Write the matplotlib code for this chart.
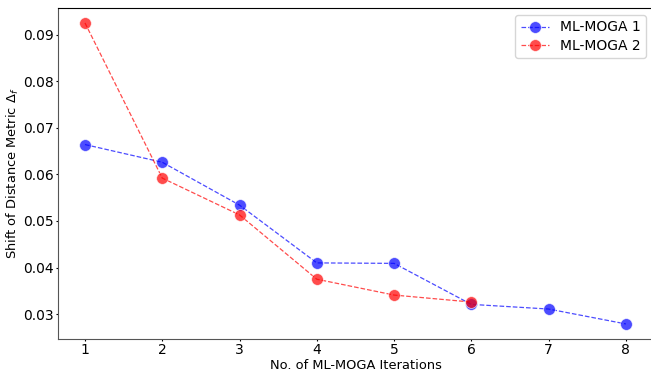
import matplotlib
matplotlib.use("Agg")
import matplotlib.pyplot as plt

iterations_1 = [1, 2, 3, 4, 5, 6, 7, 8]
shift_1 = [0.0664, 0.0626, 0.0534, 0.0410, 0.0409, 0.0321, 0.0311, 0.0279]
iterations_2 = [1, 2, 3, 4, 5, 6]
shift_2 = [0.0925, 0.0592, 0.0513, 0.0375, 0.0341, 0.0326]


def main() -> None:
    fig = plt.figure(figsize=(6.51, 3.75), dpi=100)
    ax = fig.add_axes([0.089, 0.096, 0.914, 0.883])
    ax.plot(iterations_1, shift_1, "o--", color="blue", alpha=0.7, lw=0.9,
            markersize=8.5, markeredgecolor="white", markeredgewidth=0.6,
            label="ML-MOGA 1")
    ax.plot(iterations_2, shift_2, "o--", color="red", alpha=0.7, lw=0.9,
            markersize=8.5, markeredgecolor="white", markeredgewidth=0.6,
            label="ML-MOGA 2")
    ax.set_xlabel("No. of ML-MOGA Iterations", fontsize=9.4, labelpad=1.5)
    ax.set_ylabel(r"Shift of Distance Metric $\Delta_f$", fontsize=9.4, labelpad=1.5)
    ax.tick_params(labelsize=10, length=1.5, pad=1.5)
    for side in ("left", "bottom"):
        ax.spines[side].set_color("#555555")
    ax.legend(loc="upper right", fontsize=10, labelspacing=0.3)
    fig.savefig("out.png", dpi=100)


if __name__ == "__main__":
    main()
